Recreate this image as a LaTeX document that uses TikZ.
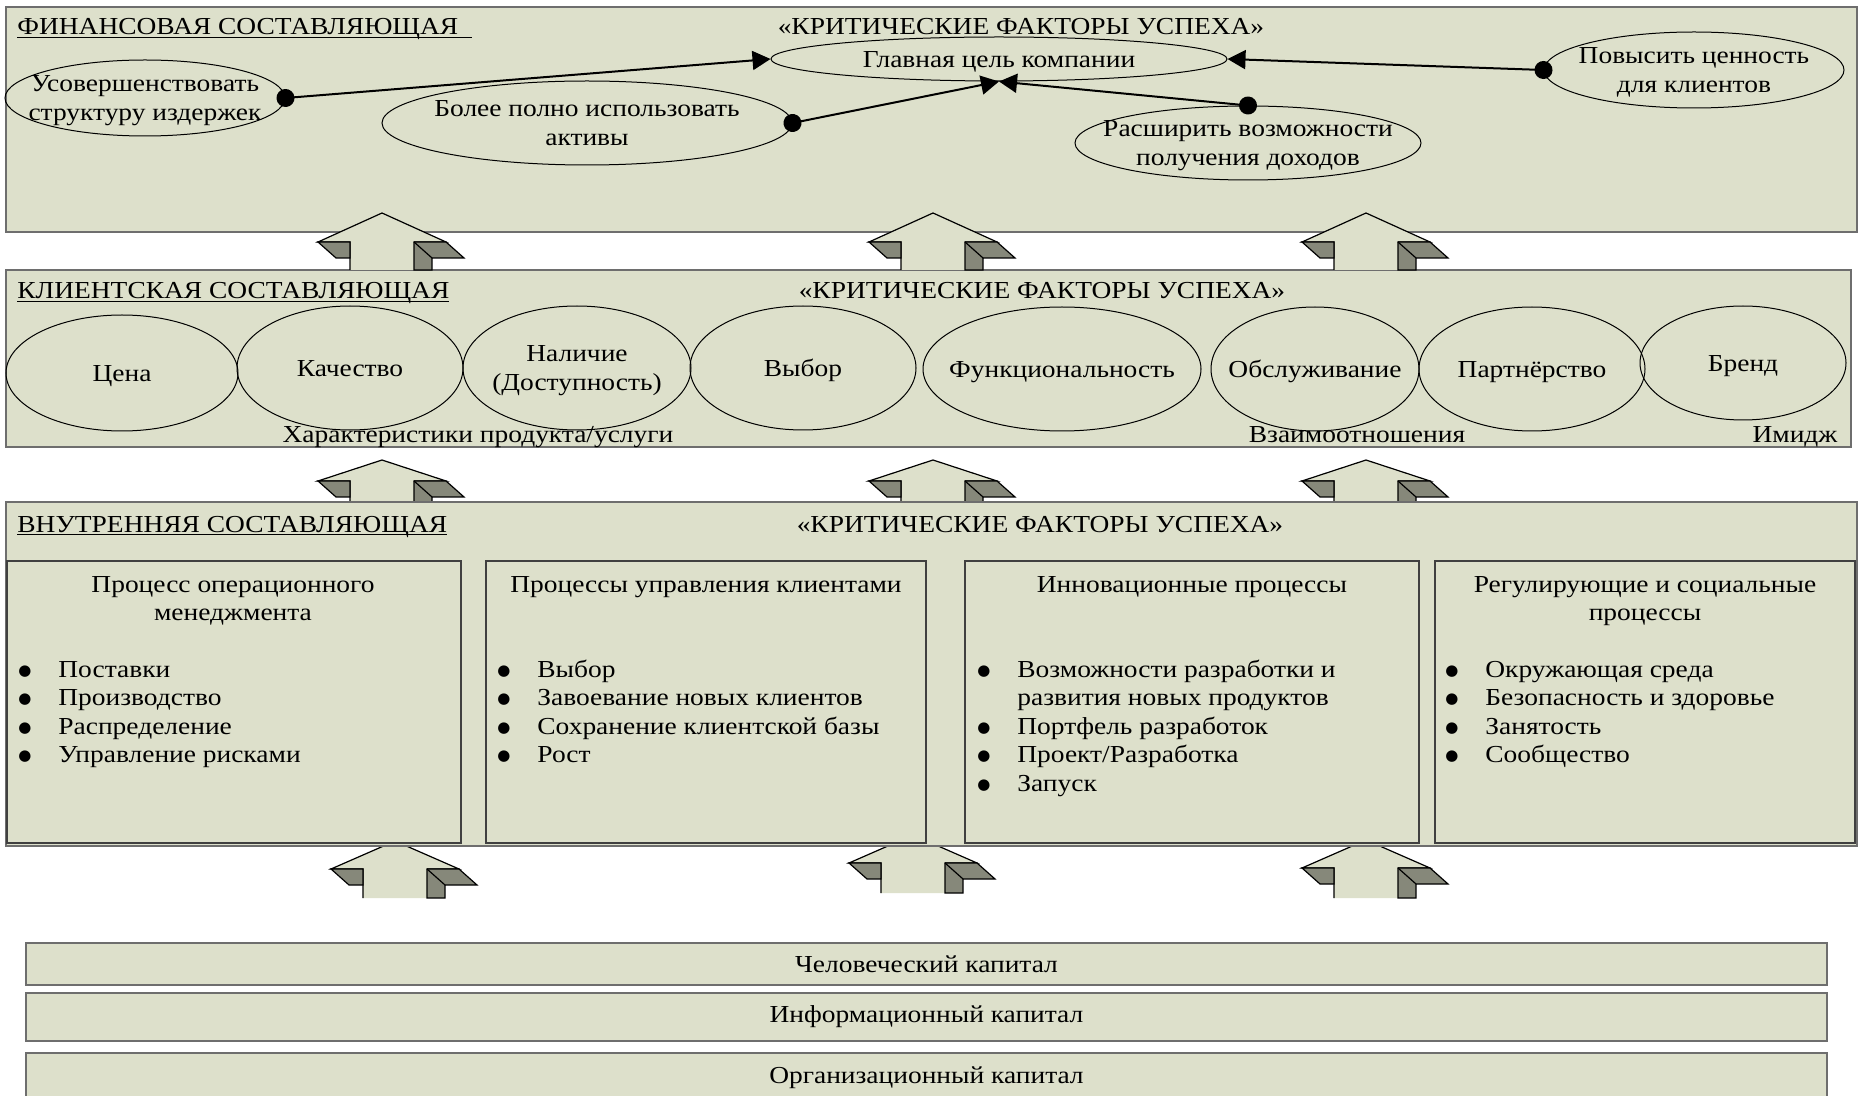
\documentclass[tikz,border=0pt]{standalone}
\usepackage{fontspec}
\setmainfont{Liberation Serif}[FakeStretch=1.125]
\newfontfamily\symfont{DejaVu Sans}
\usetikzlibrary{shapes.geometric,arrows.meta}
\definecolor{boxfill}{HTML}{DDE0CB}
\definecolor{darkface}{HTML}{86887A}
\definecolor{edgegray}{HTML}{6E6E6E}
\newcommand\ulbox[1]{\setbox0\hbox{#1}\rlap{\rule[-1.6pt]{\wd0}{0.8pt}}\box0}
\newcommand\bul{\makebox[20pt][l]{\raisebox{0.9pt}{\symfont\fontsize{7.5}{8}\selectfont ●}}}
\newcommand\ind{\hspace*{20pt}}
\newcommand\ctext[1]{\makebox[0pt]{\raisebox{-4.2pt}[0pt][0pt]{\begin{tabular}{@{}c@{}}#1\end{tabular}}}}
% 3D block arrow pointing up: #1 centre x, #2 tip y, #3 shoulder y, #4 bottom y
\newcommand\blockup[4]{%
  \pgfmathsetmacro\bxA{#1-64}\pgfmathsetmacro\bxB{#1-32}%
  \pgfmathsetmacro\bxC{#1+32}\pgfmathsetmacro\bxD{#1+64}%
  \pgfmathsetmacro\bxE{#1-46}\pgfmathsetmacro\bxF{#1+50}%
  \pgfmathsetmacro\bxG{#1+82}\pgfmathsetmacro\byS{#3+16}%
  \fill[boxfill] (\bxB,#4) -- (\bxB,#3) -- (\bxA,#3) -- (#1,#2) -- (\bxD,#3) -- (\bxC,#3) -- (\bxC,#4) -- cycle;
  \draw[arrline] (\bxB,#4) -- (\bxB,#3) -- (\bxA,#3) -- (#1,#2) -- (\bxD,#3) -- (\bxC,#3);
  \filldraw[faceD] (\bxA,#3) -- (\bxB,#3) -- (\bxB,\byS) -- (\bxE,\byS) -- cycle;
  \filldraw[faceD] (\bxC,#3) -- (\bxD,#3) -- (\bxG,\byS) -- (\bxF,\byS) -- (\bxF,#4) -- (\bxC,#4) -- cycle;
  \draw[arrline] (\bxC,#3) -- (\bxF,\byS);
}
\begin{document}
\begin{tikzpicture}[x=0.5pt,y=-0.5pt,
  every node/.style={font=\fontsize{12.2}{14.25}\selectfont, inner sep=0pt},
  panel/.style={fill=boxfill, draw=edgegray, line width=1pt},
  subpanel/.style={fill=boxfill, draw=black!75, line width=0.6pt},
  oval/.style={ellipse, draw=black, line width=0.5pt},
  conn/.style={line width=1pt, {Circle[length=9pt]}-{Triangle[length=9pt,width=9.5pt]}, shorten <=-4.5pt},
  arrline/.style={draw=black, line width=0.6pt},
  faceD/.style={fill=darkface, draw=black, line width=0.6pt},
  lbl/.style={anchor=base},
]
\useasboundingbox[fill=white] (0,0) rectangle (1858,1096);

% ---------------- financial panel ----------------
\path[panel] (6,7) rectangle (1857,232);
\node[anchor=base west] (fintitle) at (17,35) {\ulbox{ФИНАНСОВАЯ СОСТАВЛЯЮЩАЯ\ \ }};
\node[lbl] (fincrit) at (1021,35) {«КРИТИЧЕСКИЕ ФАКТОРЫ УСПЕХА»};
\node[oval, minimum width=228pt, minimum height=22pt] (goal) at (999,59) {\ctext{Главная цель компании}};
\node[oval, minimum width=140pt, minimum height=38pt] (usov) at (145,98) {\ctext{Усовершенствовать\\структуру издержек}};
\node[oval, minimum width=205pt, minimum height=42pt] (more) at (587,123) {\ctext{Более полно использовать\\активы}};
\node[oval, minimum width=173pt, minimum height=37pt] (rash) at (1248,143) {\ctext{Расширить возможности\\получения доходов}};
\node[oval, minimum width=150pt, minimum height=38pt] (pov) at (1694,70) {\ctext{Повысить ценность\\для клиентов}};
\draw[conn] (usov.east) -- (goal.west);
\draw[conn] (more.east) -- (goal.south);
\draw[conn] (rash.north) -- (goal.south);
\draw[conn] (pov.west) -- (goal.east);

% ---------------- customer panel ----------------
\path[panel] (6,270) rectangle (1851,447);
\node[anchor=base west] (clititle) at (17,299) {\ulbox{КЛИЕНТСКАЯ СОСТАВЛЯЮЩАЯ}};
\node[lbl] (clicrit) at (1042,299) {«КРИТИЧЕСКИЕ ФАКТОРЫ УСПЕХА»};
\node[oval, minimum width=116pt, minimum height=58pt] (cena) at (122,373) {\ctext{Цена}};
\node[oval, minimum width=113pt, minimum height=62pt] (kach) at (350,368) {\ctext{Качество}};
\node[oval, minimum width=114pt, minimum height=62pt] (nal) at (577,368) {\ctext{Наличие\\(Доступность)}};
\node[oval, minimum width=113pt, minimum height=62pt] (vyb) at (803,368) {\ctext{Выбор}};
\node[oval, minimum width=139pt, minimum height=62pt] (func) at (1062,369) {\ctext{Функциональность}};
\node[oval, minimum width=104pt, minimum height=62pt] (obs) at (1315,369) {\ctext{Обслуживание}};
\node[oval, minimum width=113pt, minimum height=62pt] (part) at (1532,369) {\ctext{Партнёрство}};
\node[oval, minimum width=103pt, minimum height=57pt] (brend) at (1743,363) {\ctext{Бренд}};
\node[lbl] (lchar) at (478,443) {Характеристики продукта/услуги};
\node[lbl] (lrel) at (1357,443) {Взаимоотношения};
\node[lbl] (limg) at (1795,443) {Имидж};

% ---------------- block arrows ----------------
\blockup{382}{213}{242}{270}
\blockup{933}{213}{242}{270}
\blockup{1366}{213}{242}{270}
\blockup{382}{460}{481}{502}
\blockup{933}{460}{481}{502}
\blockup{1366}{460}{481}{502}
\blockup{395}{841}{869}{898}
\blockup{913}{835}{863}{893}
\blockup{1366}{840}{868}{898}

% ---------------- internal panel ----------------
\path[panel] (6,502) rectangle (1857,846);
\node[anchor=base west] (inttitle) at (17,532) {\ulbox{ВНУТРЕННЯЯ СОСТАВЛЯЮЩАЯ}};
\node[lbl] (intcrit) at (1040,532) {«КРИТИЧЕСКИЕ ФАКТОРЫ УСПЕХА»};
\path[subpanel] (7,561) rectangle (461,843);
\path[subpanel] (486,561) rectangle (926,843);
\path[subpanel] (965,561) rectangle (1419,843);
\path[subpanel] (1435,561) rectangle (1855,843);
\node[lbl] (t1) at (233,592) {\begin{tabular}[t]{@{}c@{}}Процесс операционного\\менеджмента\end{tabular}};
\node[lbl] (t2) at (706,592) {\begin{tabular}[t]{@{}c@{}}Процессы управления клиентами\end{tabular}};
\node[lbl] (t3) at (1192,592) {\begin{tabular}[t]{@{}c@{}}Инновационные процессы\end{tabular}};
\node[lbl] (t4) at (1645,592) {\begin{tabular}[t]{@{}c@{}}Регулирующие и социальные\\процессы\end{tabular}};
\node[anchor=base west] (b1) at (18,677) {\begin{tabular}[t]{@{}l@{}}\bul Поставки\\\bul Производство\\\bul Распределение\\\bul Управление рисками\end{tabular}};
\node[anchor=base west] (b2) at (497,677) {\begin{tabular}[t]{@{}l@{}}\bul Выбор\\\bul Завоевание новых клиентов\\\bul Сохранение клиентской базы\\\bul Рост\end{tabular}};
\node[anchor=base west] (b3) at (977,677) {\begin{tabular}[t]{@{}l@{}}\bul Возможности разработки и\\\ind развития новых продуктов\\\bul Портфель разработок\\\bul Проект/Разработка\\\bul Запуск\end{tabular}};
\node[anchor=base west] (b4) at (1445,677) {\begin{tabular}[t]{@{}l@{}}\bul Окружающая среда\\\bul Безопасность и здоровье\\\bul Занятость\\\bul Сообщество\end{tabular}};

% ---------------- capital bars ----------------
\node[panel, minimum width=900.5pt, minimum height=21pt] (hum) at (926.5,964) {Человеческий капитал};
\node[panel, minimum width=900.5pt, minimum height=24pt] (info) at (926.5,1017) {Информационный капитал};
\node[panel, minimum width=900.5pt, minimum height=25pt] (org) at (926.5,1078) {Организационный капитал};
\end{tikzpicture}
\end{document}
